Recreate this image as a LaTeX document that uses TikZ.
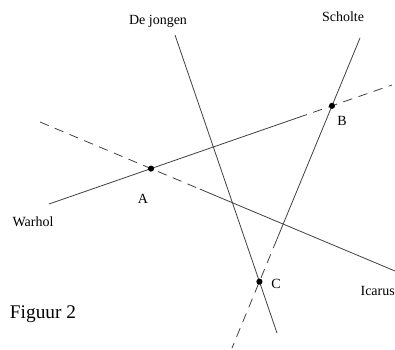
\documentclass[tikz,border=0pt]{standalone}
\usepackage{fontspec}
\setmainfont{Liberation Serif}
\usetikzlibrary{calc, positioning}

\begin{document}
\begin{tikzpicture}[
      x=0.75pt, y=-0.75pt,
      line/.style={draw=black!75, line width=0.6pt},
      dashline/.style={line, dash pattern=on 7pt off 5pt},
      dot/.style={circle, fill=black, inner sep=0pt, minimum size=4.6pt},
      lbl/.style={font=\fontsize{10.5}{12}\selectfont, inner sep=1pt}
    ]
      \useasboundingbox (0,0) rectangle (395,349);

      % Ends of the four lines
      \coordinate (warholS) at (49,204);
      \coordinate (warholE) at (392,85);
      \coordinate (icarusS) at (40,122);
      \coordinate (icarusE) at (395,271);
      \coordinate (jongenS) at (175,35);
      \coordinate (jongenE) at (277,333);
      \coordinate (scholteS) at (360,38);
      \coordinate (scholteE) at (232,348);

      % Where solid turns into dashed
      \coordinate (warholM) at ($(warholS)!0.726!(warholE)$);
      \coordinate (icarusM) at ($(icarusS)!0.45!(icarusE)$);
      \coordinate (scholteM) at ($(scholteS)!0.65!(scholteE)$);

      % Crossing points
      \coordinate (A) at (intersection of warholS--warholE and icarusS--icarusE);
      \coordinate (B) at (intersection of warholS--warholE and scholteS--scholteE);
      \coordinate (C) at (intersection of jongenS--jongenE and scholteS--scholteE);

      % Lines
      \draw[line] (warholS) -- (warholM);
      \draw[dashline] (warholM) -- (warholE);
      \draw[dashline] (icarusS) -- (icarusM);
      \draw[line] (icarusM) -- (icarusE);
      \draw[line] (jongenS) -- (jongenE);
      \draw[line] (scholteS) -- (scholteM);
      \draw[dashline] (scholteM) -- (scholteE);

      % Dots
      \node[dot] (dotA) at (A) {};
      \node[dot] (dotB) at (B) {};
      \node[dot] (dotC) at (C) {};

      % Labels
      \node[lbl] (labA) at (143,199) {A};
      \node[lbl] (labB) at (342,121) {B};
      \node[lbl] (labC) at (276,284) {C};
      \node[lbl] (warhol) at (33,222) {Warhol};
      \node[lbl, anchor=west] (icarus) at (359,291) {Icarus};
      \node[lbl] (jongen) at (158,21) {De jongen};
      \node[lbl] (scholte) at (343,17) {Scholte};
      \node[font=\fontsize{14.5}{16}\selectfont, inner sep=1pt] (fig) at (43,314) {Figuur 2};

    \end{tikzpicture}
\end{document}
